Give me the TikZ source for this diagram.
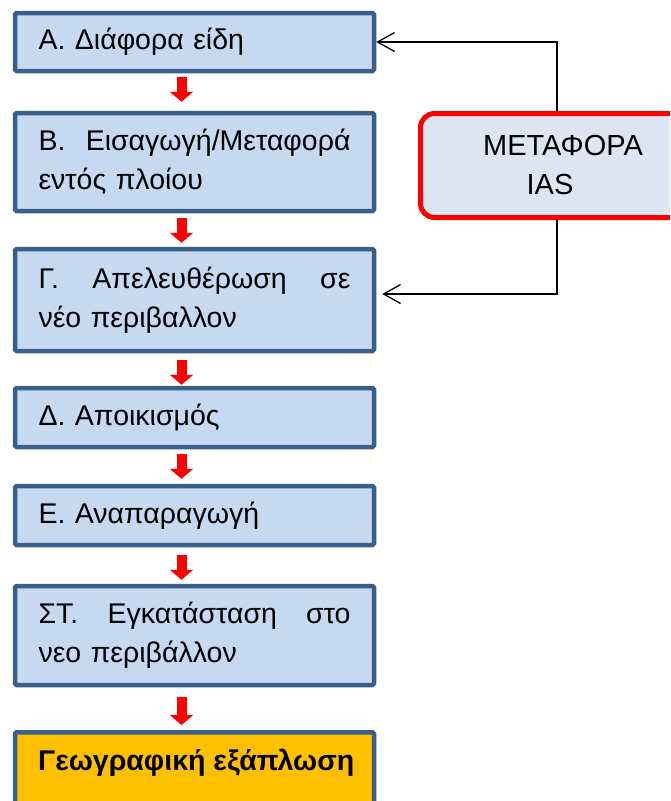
\documentclass[tikz,border=0pt]{standalone}
\usepackage{fontspec}
\setmainfont{Liberation Sans}
\usetikzlibrary{arrows.meta,calc}
\definecolor{boxfill}{HTML}{C6D9F1}
\definecolor{boxdraw}{HTML}{3A5F8B}
\definecolor{metafill}{HTML}{DCE6F2}
\definecolor{geofill}{HTML}{FFC000}
\begin{document}
\begin{tikzpicture}[x=1pt,y=-1pt,
  stepbox/.style={draw=boxdraw, fill=boxfill, line width=4.5pt, rounded corners=1.5pt,
    minimum width=359pt, text width=312pt, align=left, inner sep=0pt,
    font=\fontsize{28.5}{39}\selectfont},
  metabox/.style={draw=red, fill=metafill, line width=5pt, rounded corners=14pt,
    minimum width=285pt, minimum height=104pt, align=center, inner sep=0pt,
    font=\fontsize{29}{39}\selectfont},
  fat/.style={draw=red, line width=10pt, -{Triangle[width=23pt,length=10pt]}},
  conn/.style={draw=black, line width=1.3pt, -{Straight Barb[length=17pt,width=19pt]}}]
\useasboundingbox (0,0) rectangle (670,801);
\clip (0,0) rectangle (670,801);

\node[stepbox, minimum height=58pt] (A) at (194.5,42) {Α. Διάφορα είδη};
\node[stepbox, minimum height=98pt] (B) at (194.5,162)
  {\makebox[312pt][l]{Β.\hfill Εισαγωγή/Μεταφορά}\\εντός πλοίου};
\node[stepbox, minimum height=102pt] (G) at (194.5,300)
  {\makebox[312pt][l]{Γ.\hfill Απελευθέρωση\hfill σε}\\νέο περιβαλλον};
\node[stepbox, minimum height=59pt] (D) at (194.5,417.5) {Δ. Αποικισμός};
\node[stepbox, minimum height=59pt] (E) at (194.5,515.5) {Ε. Αναπαραγωγή};
\node[stepbox, minimum height=99pt] (ST) at (194.5,635.5)
  {\makebox[312pt][l]{ΣΤ.\hfill Εγκατάσταση\hfill στο}\\νεο περιβάλλον};
\node[stepbox, fill=geofill, minimum height=120pt, anchor=north] (geo) at (194.5,730) {};
\node[anchor=base west, inner sep=0pt, font=\bfseries\fontsize{28.5}{39}\selectfont] (geotext) at (38,770) {Γεωγραφική εξάπλωση};

\node[metabox] (meta) at (563,165.5) {ΜΕΤΑΦΟΡΑ\\IAS\hspace*{26pt}};

\draw[fat] ($(A.south)+(-13,4)$) -- ($(B.north)+(-13,-9)$);
\draw[fat] ($(B.south)+(-13,5)$) -- ($(G.north)+(-13,-4)$);
\draw[fat] ($(G.south)+(-13,7)$) -- ($(D.north)+(-13,-1)$);
\draw[fat] ($(D.south)+(-13,5)$) -- ($(E.north)+(-13,-5)$);
\draw[fat] ($(E.south)+(-13,8)$) -- ($(ST.north)+(-13,-4)$);
\draw[fat] ($(ST.south)+(-13,10)$) -- ($(geo.north)+(-13,-5)$);

\draw[conn] ($(meta.north)+(-6,0)$) |- (A.east);
\draw[conn] ($(meta.south)+(-6,0)$) |- ($(G.east)+(6,-6)$);
\end{tikzpicture}
\end{document}
